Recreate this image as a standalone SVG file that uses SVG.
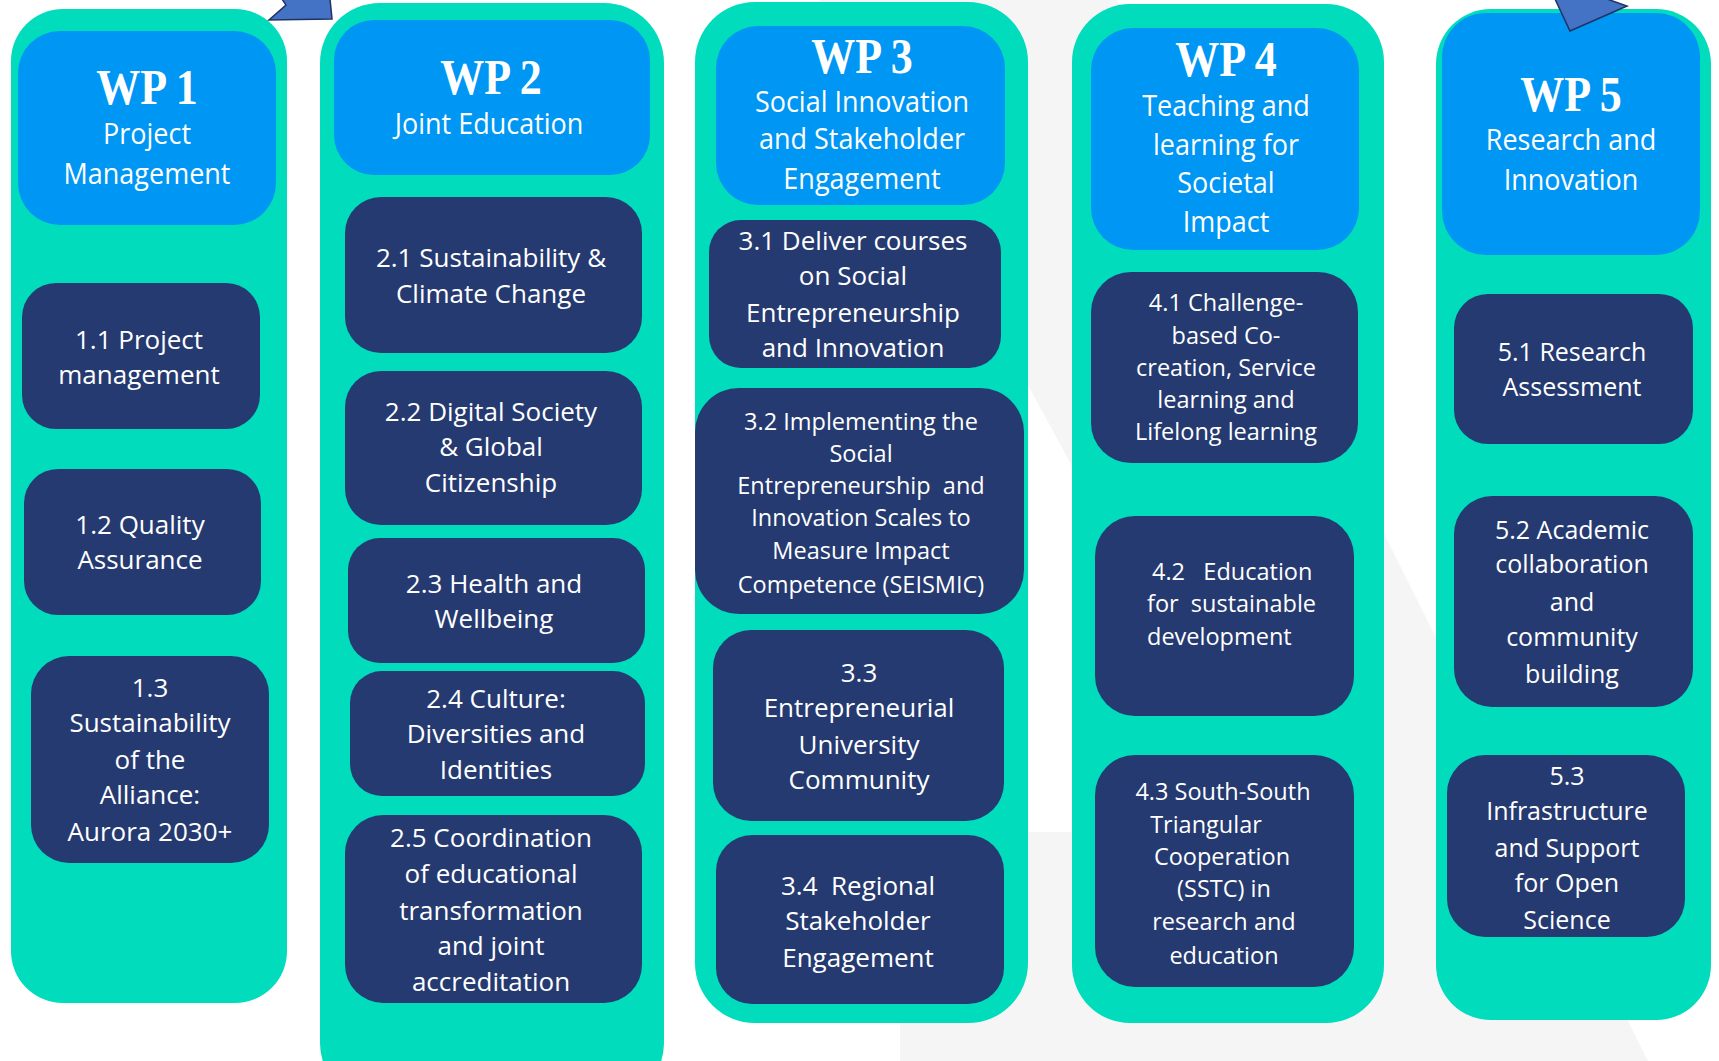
<svg xmlns="http://www.w3.org/2000/svg" width="1719" height="1061" viewBox="0 0 1719 1061">
<style>
.col{fill:#00dcbc}
.hdr{fill:#0096f4}
.box{fill:#253a70}
.t{font-family:"Open Sans","Noto Sans",sans-serif;fill:#ffffff;text-anchor:middle;font-size:26px}
.s{font-size:23.5px}
.m{font-size:25px}
.h{font-family:"Open Sans","Noto Sans",sans-serif;fill:#ffffff;text-anchor:middle;font-size:27px}
.wp{font-family:"Liberation Serif","DejaVu Serif",serif;font-weight:bold;fill:#ffffff;text-anchor:middle;font-size:44px}
.arr{fill:#4472c4;stroke:#1f3264;stroke-width:1.5;stroke-linejoin:miter}
</style>
<rect width="1719" height="1061" fill="#ffffff"/>
<polygon points="819,0 1117,0 1648,1061 900,1061 900,832 1250,832 1250,794" fill="#f5f5f5"/>

<g id="wp1">
<rect class="col" x="11" y="9" width="276" height="994" rx="52"/>
<rect class="hdr" x="18" y="31" width="258" height="194" rx="42"/>
<text class="wp" transform="translate(147,104) scale(1,1.17)">WP 1</text>
<text class="h" transform="translate(147,144) scale(1,1.1)">Project</text>
<text class="h" transform="translate(147,184) scale(1,1.1)">Management</text>
</g>
<g id="wp1-1">
<rect class="box" x="22" y="283" width="238" height="146" rx="34"/>
<text class="t" x="139" y="349">1.1 Project</text>
<text class="t" x="139" y="384">management</text>
</g>
<g id="wp1-2">
<rect class="box" x="24" y="469" width="237" height="146" rx="34"/>
<text class="t" x="140" y="534">1.2 Quality</text>
<text class="t" x="140" y="569">Assurance</text>
</g>
<g id="wp1-3">
<rect class="box" x="31" y="656" width="238" height="207" rx="38"/>
<text class="t" x="150" y="697">1.3</text>
<text class="t" x="150" y="732">Sustainability</text>
<text class="t" x="150" y="769">of the</text>
<text class="t" x="150" y="804">Alliance:</text>
<text class="t" x="150" y="841">Aurora 2030+</text>
</g>

<g id="wp2">
<rect class="col" x="320" y="3" width="344" height="1100" rx="60"/>
<rect class="hdr" x="334" y="20" width="316" height="155" rx="40"/>
<text class="wp" transform="translate(491,94) scale(1,1.17)">WP 2</text>
<text class="h" transform="translate(489,134) scale(1,1.1)">Joint Education</text>
</g>
<g id="wp2-1">
<rect class="box" x="345" y="197" width="297" height="156" rx="36"/>
<text class="t" x="491" y="267">2.1 Sustainability &amp;</text>
<text class="t" x="491" y="303">Climate Change</text>
</g>
<g id="wp2-2">
<rect class="box" x="345" y="371" width="297" height="154" rx="36"/>
<text class="t" x="491" y="421">2.2 Digital Society</text>
<text class="t" x="491" y="456">&amp; Global</text>
<text class="t" x="491" y="492">Citizenship</text>
</g>
<g id="wp2-3">
<rect class="box" x="348" y="538" width="297" height="125" rx="32"/>
<text class="t" x="494" y="593">2.3 Health and</text>
<text class="t" x="494" y="628">Wellbeing</text>
</g>
<g id="wp2-4">
<rect class="box" x="350" y="671" width="295" height="125" rx="32"/>
<text class="t" x="496" y="708">2.4 Culture:</text>
<text class="t" x="496" y="743">Diversities and</text>
<text class="t" x="496" y="779">Identities</text>
</g>
<g id="wp2-5">
<rect class="box" x="345" y="815" width="297" height="188" rx="38"/>
<text class="t" x="491" y="847">2.5 Coordination</text>
<text class="t" x="491" y="883">of educational</text>
<text class="t" x="491" y="920">transformation</text>
<text class="t" x="491" y="955">and joint</text>
<text class="t" x="491" y="991">accreditation</text>
</g>

<g id="wp3">
<rect class="col" x="695" y="2" width="333" height="1021" rx="60"/>
<rect class="hdr" x="716" y="26" width="289" height="179" rx="42"/>
<text class="wp" transform="translate(862,73) scale(1,1.17)">WP 3</text>
<text class="h" transform="translate(862,112) scale(1,1.1)">Social Innovation</text>
<text class="h" transform="translate(862,149) scale(1,1.1)">and Stakeholder</text>
<text class="h" transform="translate(862,189) scale(1,1.1)">Engagement</text>
</g>
<g id="wp3-1">
<rect class="box" x="709" y="220" width="292" height="148" rx="32"/>
<text class="t" x="853" y="250">3.1 Deliver courses</text>
<text class="t" x="853" y="285">on Social</text>
<text class="t" x="853" y="322">Entrepreneurship</text>
<text class="t" x="853" y="357">and Innovation</text>
</g>
<g id="wp3-2">
<rect class="box" x="695" y="388" width="329" height="226" rx="44"/>
<text class="t s" x="861" y="430">3.2 Implementing the</text>
<text class="t s" x="861" y="462">Social</text>
<text class="t s" x="861" y="494" xml:space="preserve">Entrepreneurship  and</text>
<text class="t s" x="861" y="526">Innovation Scales to</text>
<text class="t s" x="861" y="559">Measure Impact</text>
<text class="t s" x="861" y="593">Competence (SEISMIC)</text>
</g>
<g id="wp3-3">
<rect class="box" x="713" y="630" width="291" height="191" rx="38"/>
<text class="t" x="859" y="682">3.3</text>
<text class="t" x="859" y="717">Entrepreneurial</text>
<text class="t" x="859" y="754">University</text>
<text class="t" x="859" y="789">Community</text>
</g>
<g id="wp3-4">
<rect class="box" x="716" y="835" width="288" height="169" rx="36"/>
<text class="t" x="858" y="895" xml:space="preserve">3.4  Regional</text>
<text class="t" x="858" y="930">Stakeholder</text>
<text class="t" x="858" y="967">Engagement</text>
</g>

<g id="wp4">
<rect class="col" x="1072" y="4" width="312" height="1019" rx="58"/>
<rect class="hdr" x="1091" y="28" width="268" height="222" rx="42"/>
<text class="wp" transform="translate(1226,76) scale(1,1.17)">WP 4</text>
<text class="h" transform="translate(1226,116) scale(1,1.1)">Teaching and</text>
<text class="h" transform="translate(1226,155) scale(1,1.1)">learning for</text>
<text class="h" transform="translate(1226,193) scale(1,1.1)">Societal</text>
<text class="h" transform="translate(1226,232) scale(1,1.1)">Impact</text>
</g>
<g id="wp4-1">
<rect class="box" x="1091" y="272" width="267" height="191" rx="40"/>
<text class="t s" x="1226" y="311">4.1 Challenge-</text>
<text class="t s" x="1226" y="344">based Co-</text>
<text class="t s" x="1226" y="376">creation, Service</text>
<text class="t s" x="1226" y="408">learning and</text>
<text class="t s" x="1226" y="440">Lifelong learning</text>
</g>
<g id="wp4-2">
<rect class="box" x="1095" y="516" width="259" height="200" rx="40"/>
<text class="t s" x="1152" y="580" style="text-anchor:start" xml:space="preserve">4.2   Education</text>
<text class="t s" x="1147" y="612" style="text-anchor:start" xml:space="preserve">for  sustainable</text>
<text class="t s" x="1147" y="645" style="text-anchor:start">development</text>
</g>
<g id="wp4-3">
<rect class="box" x="1095" y="755" width="259" height="232" rx="40"/>
<text class="t s" x="1223" y="800">4.3 South-South</text>
<text class="t s" x="1206" y="833">Triangular</text>
<text class="t s" x="1222" y="865">Cooperation</text>
<text class="t s" x="1224" y="897">(SSTC) in</text>
<text class="t s" x="1224" y="930">research and</text>
<text class="t s" x="1224" y="964">education</text>
</g>

<g id="wp5">
<rect class="col" x="1436" y="9" width="275" height="1011" rx="55"/>
<rect class="hdr" x="1442" y="13" width="258" height="242" rx="44"/>
<text class="wp" transform="translate(1571,111) scale(1,1.17)">WP 5</text>
<text class="h" transform="translate(1571,150) scale(1,1.1)">Research and</text>
<text class="h" transform="translate(1571,190) scale(1,1.1)">Innovation</text>
</g>
<g id="wp5-1">
<rect class="box" x="1454" y="294" width="239" height="150" rx="34"/>
<text class="t m" x="1572" y="361">5.1 Research</text>
<text class="t m" x="1572" y="396">Assessment</text>
</g>
<g id="wp5-2">
<rect class="box" x="1454" y="496" width="239" height="211" rx="38"/>
<text class="t m" x="1572" y="539">5.2 Academic</text>
<text class="t m" x="1572" y="573">collaboration</text>
<text class="t m" x="1572" y="611">and</text>
<text class="t m" x="1572" y="646">community</text>
<text class="t m" x="1572" y="683">building</text>
</g>
<g id="wp5-3">
<rect class="box" x="1447" y="755" width="238" height="182" rx="38"/>
<text class="t m" x="1567" y="785">5.3</text>
<text class="t m" x="1567" y="820">Infrastructure</text>
<text class="t m" x="1567" y="857">and Support</text>
<text class="t m" x="1567" y="892">for Open</text>
<text class="t m" x="1567" y="929">Science</text>
</g>

<g id="decor">
<polygon class="arr" points="282,-1 286,5 269,20 332,19 330,-1"/>
<polygon class="arr" points="1555,-1 1607,-1 1627,6 1570,31"/>
</g>
</svg>
